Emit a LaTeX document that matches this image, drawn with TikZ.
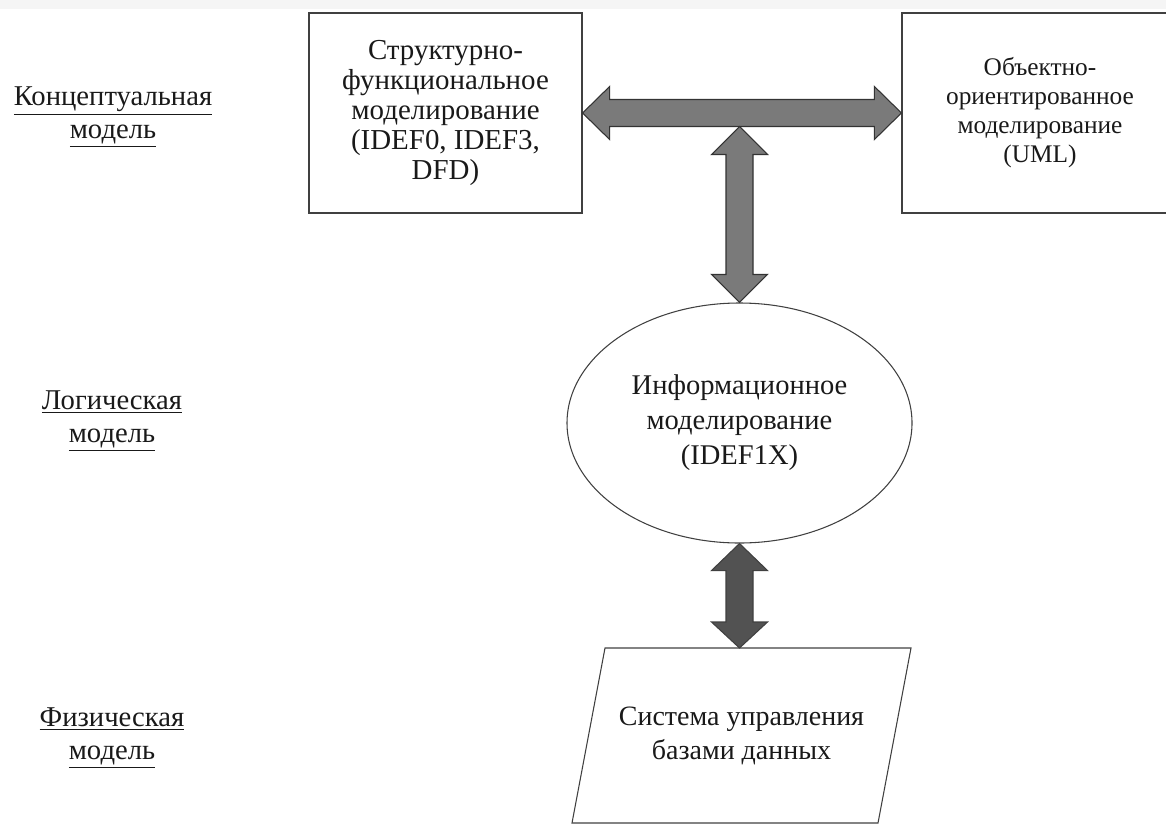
\documentclass[tikz,border=0pt]{standalone}
\usepackage{fontspec}
\setmainfont{Liberation Serif}
\usetikzlibrary{positioning,calc,shapes.geometric}
\tikzset{
  modelbox/.style={draw=black!75, line width=0.9pt, minimum height=150pt, align=center, inner sep=0pt, text=black!90},
  levellabel/.style={align=center, text=black!90, font=\fontsize{21.5}{24.75}\selectfont},
  bigarrow/.style={draw=black!80, fill=black!52, line width=0.8pt},
  darkarrow/.style={draw=black!75, fill=black!68, line width=0.8pt}
}
\begin{document}
\begin{tikzpicture}[x=0.75pt,y=-0.75pt]
\useasboundingbox (0,0) rectangle (1166,824);
\fill[black!4] (0,0) rectangle (1166,9);
\node[levellabel] (concept) at (113,117) {\underline{Концептуальная}\\\underline{модель}};
\node[levellabel] (logic) at (112,421) {\underline{Логическая}\\\underline{модель}};
\node[levellabel] (phys) at (112,738) {\underline{Физическая}\\\underline{модель}};
\node[modelbox, minimum width=204.75pt, font=\fontsize{21.7}{22.5}\selectfont] (struct) at (445.5,113)
  {Структурно-\\функциональное\\моделирование\\(IDEF0, IDEF3,\\DFD)};
\node[modelbox, minimum width=207pt, font=\fontsize{19}{21.75}\selectfont] (object) at (1040,113)
  {Объектно-\\ориентированное\\моделирование\\(UML)};
\node[ellipse, draw=black!75, line width=0.8pt, minimum width=258.75pt, minimum height=180pt,
  inner sep=0pt, align=center, text=black!90, font=\fontsize{21.4}{26.25}\selectfont] (info) at (739.5,423)
  {Информационное\\моделирование\\(IDEF1X)};
\node[align=center, text=black!90, font=\fontsize{21}{25.5}\selectfont] (dbms) at (741.5,735.5)
  {Система управления\\базами данных};
\draw[draw=black!75, line width=0.8pt] ($(dbms)+(-136.5,-87.5)$) -- ($(dbms)+(169.5,-87.5)$)
  -- ($(dbms)+(136.5,87.5)$) -- ($(dbms)+(-169.5,87.5)$) -- cycle;
\path (struct.east) ++(0,13.5) coordinate (shaftlow);
\path (dbms) ++(0,-87.5) coordinate (dbmsedge);
\coordinate (hub) at (info.north |- shaftlow);
\coordinate (dbmstop) at (info.south |- dbmsedge);
\draw[bigarrow] (struct.east) -- ($(struct.east)+(27,-26.5)$) -- ($(struct.east)+(27,-13.5)$)
  -- ($(object.west)+(-27,-13.5)$) -- ($(object.west)+(-27,-26.5)$) -- (object.west)
  -- ($(object.west)+(-27,26.5)$) -- ($(object.west)+(-27,13.5)$)
  -- ($(struct.east)+(27,13.5)$) -- ($(struct.east)+(27,26.5)$) -- cycle;
\draw[bigarrow] (hub) -- ($(hub)+(28,28)$) -- ($(hub)+(13.5,28)$)
  -- ($(info.north)+(13.5,-28)$) -- ($(info.north)+(28,-28)$) -- (info.north)
  -- ($(info.north)+(-28,-28)$) -- ($(info.north)+(-13.5,-28)$)
  -- ($(hub)+(-13.5,28)$) -- ($(hub)+(-28,28)$) -- cycle;
\draw[darkarrow] (info.south) -- ($(info.south)+(28,27)$) -- ($(info.south)+(13.5,27)$)
  -- ($(dbmstop)+(13.5,-26)$) -- ($(dbmstop)+(28,-26)$) -- (dbmstop)
  -- ($(dbmstop)+(-28,-26)$) -- ($(dbmstop)+(-13.5,-26)$)
  -- ($(info.south)+(-13.5,27)$) -- ($(info.south)+(-28,27)$) -- cycle;
\end{tikzpicture}
\end{document}
